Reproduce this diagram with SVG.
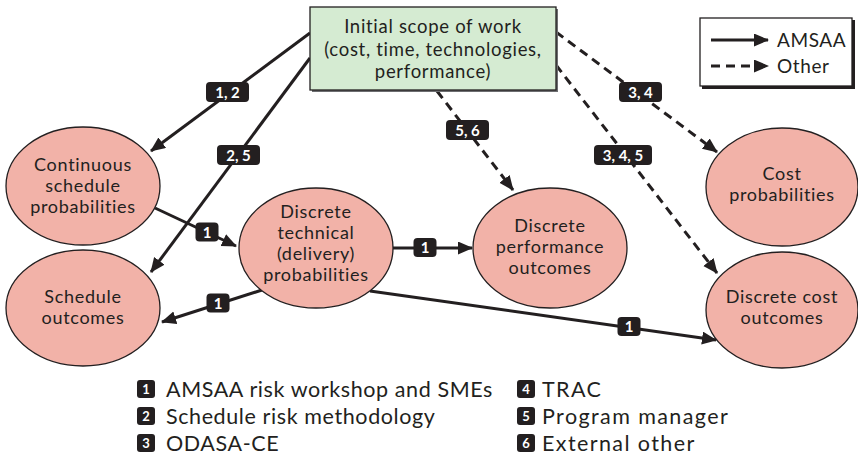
<svg xmlns="http://www.w3.org/2000/svg" width="858" height="458" viewBox="0 0 858 458">
<style>
text{font-family:Lato,"Open Sans","Liberation Sans",sans-serif;fill:#231f20}
.node{font-size:18px;text-anchor:middle;letter-spacing:0.7px}
.top{font-size:18.5px;text-anchor:middle;letter-spacing:0.7px}
.ell{fill:#f2b2a8;stroke:#231f20;stroke-width:1.3}
.ln{fill:none;stroke:#231f20;stroke-width:3}
.dash{stroke-dasharray:9 6}
.tag{fill:#231f20}
.tagt{font-size:15px;font-weight:bold;fill:#fff;text-anchor:middle}
.leg{font-size:21.5px;letter-spacing:0.6px}
.leg2{font-size:21.5px;letter-spacing:1.4px}
.key{font-size:13px;font-weight:bold;fill:#fff;text-anchor:middle}
</style>
<defs>
<marker id="ah" markerUnits="userSpaceOnUse" markerWidth="16" markerHeight="14" refX="14" refY="6.5" orient="auto">
<path d="M0,0 L15,6.5 L0,13 z" fill="#231f20"/>
</marker>
</defs>

<g id="connectors">
<line class="ln" x1="310" y1="33" x2="151" y2="151" marker-end="url(#ah)"/>
<line class="ln" x1="310" y1="58" x2="151" y2="272" marker-end="url(#ah)"/>
<line class="ln" x1="155" y1="208" x2="236" y2="246" marker-end="url(#ah)"/>
<line class="ln" x1="262" y1="290" x2="162" y2="322" marker-end="url(#ah)"/>
<line class="ln" x1="393" y1="248" x2="472" y2="248" marker-end="url(#ah)"/>
<line class="ln" x1="370" y1="291" x2="716" y2="340" marker-end="url(#ah)"/>
<line class="ln dash" x1="437" y1="91" x2="513" y2="190" marker-end="url(#ah)"/>
<line class="ln dash" x1="556" y1="32" x2="717" y2="152" marker-end="url(#ah)"/>
<line class="ln dash" x1="556" y1="65" x2="717" y2="273" marker-end="url(#ah)"/>

<g id="lbl-12"><rect class="tag" x="206" y="82" width="43" height="20" rx="4"/><text class="tagt" x="227.5" y="97.5">1, 2</text></g>
<g id="lbl-25"><rect class="tag" x="217" y="145" width="43" height="20" rx="4"/><text class="tagt" x="238.5" y="160.5">2, 5</text></g>
<g id="lbl-1a"><rect class="tag" x="195.5" y="222.5" width="23" height="19" rx="4"/><text class="tagt" x="207" y="237.5">1</text></g>
<g id="lbl-1b"><rect class="tag" x="206.5" y="293.5" width="23" height="19" rx="4"/><text class="tagt" x="218" y="308.5">1</text></g>
<g id="lbl-1c"><rect class="tag" x="413.5" y="238" width="23" height="19" rx="4"/><text class="tagt" x="425" y="253">1</text></g>
<g id="lbl-1d"><rect class="tag" x="617.5" y="317" width="23" height="19" rx="4"/><text class="tagt" x="629" y="332">1</text></g>
<g id="lbl-56"><rect class="tag" x="446" y="120" width="43" height="20" rx="4"/><text class="tagt" x="467.5" y="135.5">5, 6</text></g>
<g id="lbl-34"><rect class="tag" x="619" y="82" width="43" height="20" rx="4"/><text class="tagt" x="640.5" y="97.5">3, 4</text></g>
<g id="lbl-345"><rect class="tag" x="594" y="145" width="58" height="20" rx="4"/><text class="tagt" x="623" y="160.5">3, 4, 5</text></g>
</g>

<g id="scope">
<rect x="312" y="9" width="246" height="83" fill="#6d6e71"/>
<rect x="310" y="7" width="246" height="83" fill="#d5ebd2" stroke="#231f20" stroke-width="1.3"/>
<text class="top" x="433" y="33">Initial scope of work</text>
<text class="top" x="433" y="56">(cost, time, technologies,</text>
<text class="top" x="433" y="78">performance)</text>
</g>

<g id="continuous">
<ellipse class="ell" cx="83" cy="186" rx="77" ry="59"/>
<text class="node" x="83" y="171">Continuous</text>
<text class="node" x="83" y="192">schedule</text>
<text class="node" x="83" y="213">probabilities</text>
</g>

<g id="schedule-outcomes">
<ellipse class="ell" cx="83" cy="308" rx="77" ry="58"/>
<text class="node" x="83" y="303">Schedule</text>
<text class="node" x="83" y="324">outcomes</text>
</g>

<g id="discrete-technical">
<ellipse class="ell" cx="316" cy="248" rx="77" ry="60"/>
<text class="node" x="316" y="218">Discrete</text>
<text class="node" x="316" y="239">technical</text>
<text class="node" x="316" y="260">(delivery)</text>
<text class="node" x="316" y="281">probabilities</text>
</g>

<g id="discrete-performance">
<ellipse class="ell" cx="550" cy="248" rx="77" ry="60"/>
<text class="node" x="550" y="232">Discrete</text>
<text class="node" x="550" y="253">performance</text>
<text class="node" x="550" y="274">outcomes</text>
</g>

<g id="cost-probabilities">
<ellipse class="ell" cx="782" cy="187" rx="76" ry="59"/>
<text class="node" x="782" y="180">Cost</text>
<text class="node" x="782" y="201">probabilities</text>
</g>

<g id="discrete-cost">
<ellipse class="ell" cx="782" cy="310" rx="76" ry="58"/>
<text class="node" x="782" y="303">Discrete cost</text>
<text class="node" x="782" y="324">outcomes</text>
</g>

<g id="legend-lines">
<rect x="702" y="20" width="153" height="69" fill="#231f20"/>
<rect x="700" y="18" width="152" height="68" fill="#fff" stroke="#231f20" stroke-width="1.3"/>
<line class="ln" x1="711" y1="40" x2="768" y2="40" marker-end="url(#ah)"/>
<line class="ln dash" x1="711" y1="66" x2="768" y2="66" stroke-dasharray="8 5" marker-end="url(#ah)"/>
<text x="777" y="47" style="font-size:19px;letter-spacing:0.6px">AMSAA</text>
<text x="777" y="73" style="font-size:19px;letter-spacing:0.6px">Other</text>
</g>

<g id="legend-sources">
<rect class="tag" x="137" y="380" width="18" height="18" rx="3"/><text class="key" x="146" y="394">1</text>
<text class="leg" x="166" y="397">AMSAA risk workshop and SMEs</text>
<rect class="tag" x="137" y="407" width="18" height="18" rx="3"/><text class="key" x="146" y="421">2</text>
<text class="leg" x="166" y="424">Schedule risk methodology</text>
<rect class="tag" x="137" y="434" width="18" height="18" rx="3"/><text class="key" x="146" y="448">3</text>
<text class="leg" x="166" y="451">ODASA-CE</text>
<rect class="tag" x="517" y="380" width="18" height="18" rx="3"/><text class="key" x="526" y="394">4</text>
<text class="leg2" x="542" y="397">TRAC</text>
<rect class="tag" x="517" y="407" width="18" height="18" rx="3"/><text class="key" x="526" y="421">5</text>
<text class="leg2" x="542" y="424">Program manager</text>
<rect class="tag" x="517" y="434" width="18" height="18" rx="3"/><text class="key" x="526" y="448">6</text>
<text class="leg2" x="542" y="451">External other</text>
</g>
</svg>
